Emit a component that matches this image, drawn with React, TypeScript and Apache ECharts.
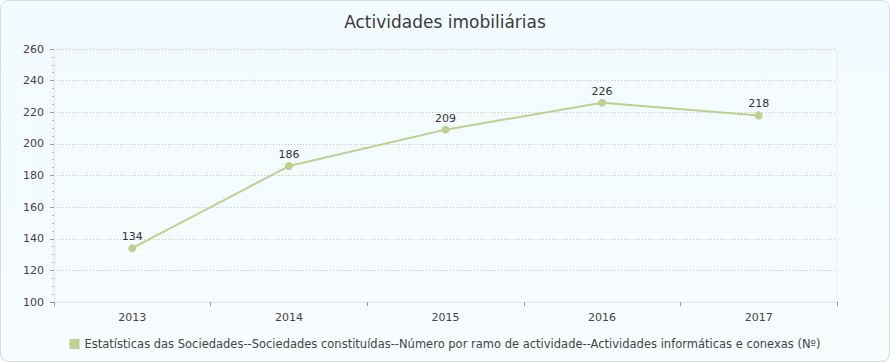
import React, { useEffect, useRef } from "react";
import * as echarts from "echarts";

const categories = ["2013", "2014", "2015", "2016", "2017"];
const values = [134, 186, 209, 226, 218];
const seriesName =
  "Estatísticas das Sociedades--Sociedades constituídas--Número por ramo de actividade--Actividades informáticas e conexas (Nº)";
const title = "Actividades imobiliárias";

export default function App() {
  const ref = useRef<HTMLDivElement>(null);
  useEffect(() => {
    document.body.style.margin = "0";
    const chart = echarts.init(ref.current!, null, { renderer: "svg" });
    const font = "Verdana, 'DejaVu Sans', sans-serif";
    chart.setOption({
      animation: false,
      title: {
        text: title,
        left: "center",
        top: 7,
        textStyle: { fontFamily: font, fontSize: 17, fontWeight: "normal", color: "#3a3a3a" },
      },
      grid: {
        left: 53,
        right: 52,
        top: 48,
        bottom: 59,
        show: true,
        borderColor: "#eceff1",
        borderWidth: 1,
        backgroundColor: "transparent",
      },
      legend: {
        bottom: 6,
        left: "center",
        itemWidth: 10,
        itemHeight: 10,
        itemGap: 5,
        icon: "rect",
        textStyle: { fontFamily: font, fontSize: 11.5, color: "#444" },
        data: [{ name: seriesName, icon: "rect" }],
      },
      xAxis: {
        type: "category",
        data: categories,
        boundaryGap: true,
        axisLine: { lineStyle: { color: "#e6e9ec" } },
        axisTick: { show: true, length: 4, lineStyle: { color: "#999" } },
        axisLabel: { fontFamily: font, fontSize: 11, color: "#444", margin: 10 },
        splitLine: { show: false },
      },
      yAxis: {
        type: "value",
        min: 100,
        max: 260,
        interval: 20,
        axisLine: { show: true, lineStyle: { color: "#e6e9ec" } },
        axisTick: { show: true, length: 4, lineStyle: { color: "#999" } },
        minorTick: { show: true, splitNumber: 4, length: 2, lineStyle: { color: "#bbb" } },
        axisLabel: { fontFamily: font, fontSize: 11, color: "#444", margin: 10 },
        splitLine: { show: true, lineStyle: { color: "#c4c4c4", type: [1, 2], width: 1 } },
      },
      series: [
        {
          name: seriesName,
          type: "line",
          data: values,
          color: "#bcd08f",
          lineStyle: { color: "#bcd08f", width: 2 },
          itemStyle: { color: "#bcd08f" },
          symbol: "circle",
          symbolSize: 8,
          label: {
            show: true,
            position: "top",
            distance: 2,
            fontFamily: font,
            fontSize: 11,
            color: "#333",
          },
        },
      ],
    });
    return () => chart.dispose();
  }, []);
  return (
    <div
      style={{
        width: 890,
        height: 362,
        boxSizing: "border-box",
        border: "1px solid #cfdce3",
        borderRadius: 8,
        background: "linear-gradient(#f2fbff, #f7fcff)",
        overflow: "hidden",
      }}
    >
      <div ref={ref} style={{ width: 888, height: 360 }} />
    </div>
  );
}
